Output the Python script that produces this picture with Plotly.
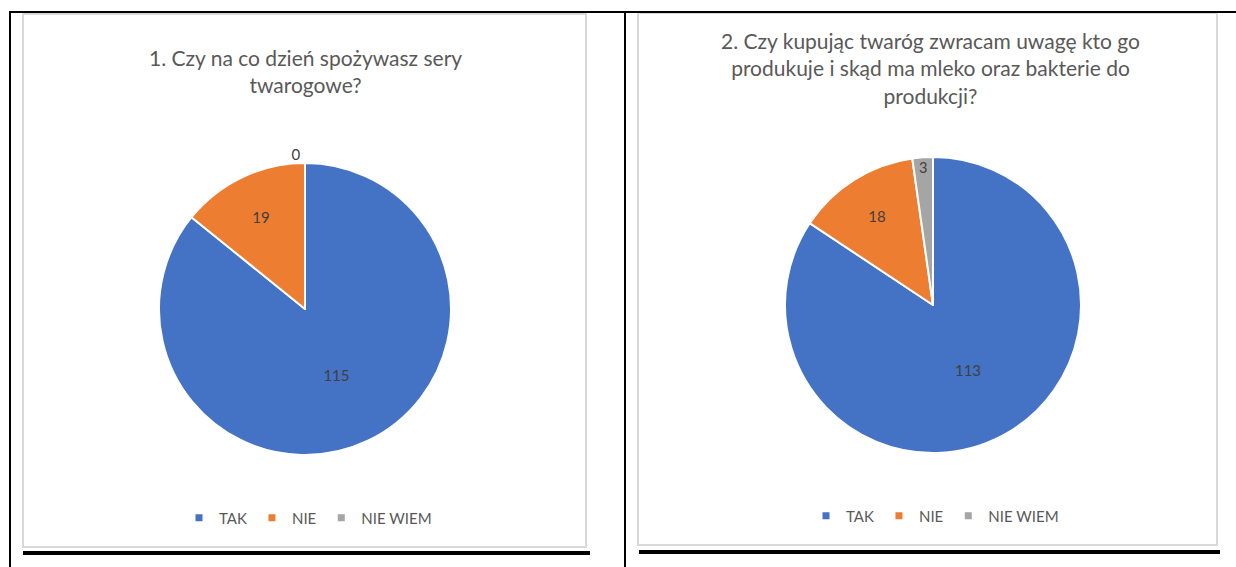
import plotly.graph_objects as go

# Survey answers
categories = ["TAK", "NIE", "NIE WIEM"]
q1_values = [115, 19, 0]
q2_values = [113, 18, 3]
q1_title = "1. Czy na co dzień spożywasz sery<br>twarogowe?"
q2_title = "2. Czy kupując twaróg zwracam uwagę kto go<br>produkuje i skąd ma mleko oraz bakterie do<br>produkcji?"
colors = ["#4472C4", "#ED7D31", "#A5A5A5"]

W, H = 1236, 567
FONT = "Lato, Calibri, sans-serif"
TXT = "#595959"


def px(x):
    return x / W


def py(y):
    return 1 - y / H


fig = go.Figure()

fig.add_trace(go.Pie(
    labels=categories, values=q1_values, sort=False,
    direction="clockwise", rotation=0,
    marker=dict(colors=colors, line=dict(color="white", width=2)),
    textinfo="value", textposition=["inside", "inside", "outside"],
    insidetextorientation="horizontal",
    textfont=dict(family=FONT, size=15, color="#404040"),
    domain=dict(x=[px(159), px(451)], y=[py(455), py(163)]),
    showlegend=False, hoverinfo="label+value",
))

fig.add_trace(go.Pie(
    labels=categories, values=q2_values, sort=False,
    direction="clockwise", rotation=0,
    marker=dict(colors=colors, line=dict(color="white", width=2)),
    textinfo="value", textposition="inside",
    insidetextorientation="horizontal",
    textfont=dict(family=FONT, size=15, color="#404040"),
    domain=dict(x=[px(785), px(1081)], y=[py(453), py(157)]),
    showlegend=False, hoverinfo="label+value",
))

# Legend keys: one small square per category for each chart
for legend_name in ["legend", "legend2"]:
    for cat, col in zip(categories, colors):
        fig.add_trace(go.Scatter(
            x=[None], y=[None], mode="markers", name=cat,
            marker=dict(symbol="square", size=7, color=col),
            legend=legend_name, showlegend=True, hoverinfo="skip",
        ))

fig.update_xaxes(visible=False)
fig.update_yaxes(visible=False)

legend_style = dict(
    orientation="h", xanchor="center", yanchor="middle",
    font=dict(family=FONT, size=15, color=TXT),
    bgcolor="rgba(0,0,0,0)", itemwidth=30, traceorder="normal",
    itemclick=False, itemdoubleclick=False,
)
fig.update_layout(
    width=W, height=H,
    margin=dict(l=0, r=0, t=0, b=0),
    paper_bgcolor="white", plot_bgcolor="white",
    legend=dict(x=px(308), y=py(518), **legend_style),
    legend2=dict(x=px(935), y=py(516), **legend_style),
)

# Chart titles
fig.add_annotation(text=q1_title, x=px(305), y=py(71), xref="paper", yref="paper",
                   showarrow=False, xanchor="center", yanchor="middle",
                   font=dict(family=FONT, size=21, color=TXT))
fig.add_annotation(text=q2_title, x=px(930), y=py(68), xref="paper", yref="paper",
                   showarrow=False, xanchor="center", yanchor="middle",
                   font=dict(family=FONT, size=21, color=TXT))

# Chart frames
for x0, x1, y0, y1 in [(23, 586, 14, 547), (638, 1217, 13, 545)]:
    fig.add_shape(type="rect", xref="paper", yref="paper",
                  x0=px(x0), x1=px(x1), y0=py(y1), y1=py(y0),
                  line=dict(color="#D9D9D9", width=2), fillcolor="rgba(0,0,0,0)")

# Table rules
rules = [
    (9, 12, 1236, 12, 2),
    (10, 12, 10, 567, 2),
    (625, 12, 625, 567, 2),
    (23, 553, 590, 553, 4),
    (639, 552, 1220, 552, 4),
]
for x0, y0, x1, y1, w in rules:
    fig.add_shape(type="line", xref="paper", yref="paper",
                  x0=px(x0), y0=py(y0), x1=px(x1), y1=py(y1),
                  line=dict(color="black", width=w))

fig.write_html("out.html")
